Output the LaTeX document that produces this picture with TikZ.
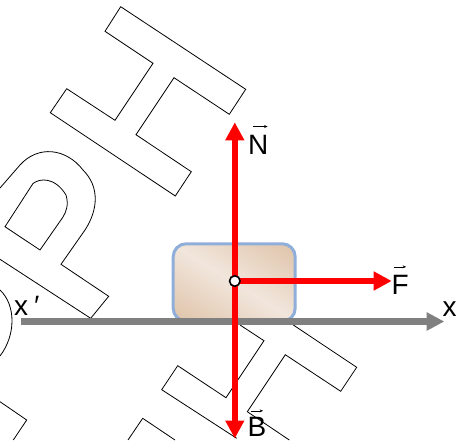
\documentclass[tikz,border=0pt]{standalone}
\usepackage{fontspec}
\setmainfont{Liberation Sans}
\usetikzlibrary{arrows.meta}
\definecolor{blockA}{HTML}{F1E6DC}
\definecolor{blockB}{HTML}{DDBFA3}
\definecolor{blockedge}{HTML}{8FAEDA}
\definecolor{axisgray}{HTML}{808080}
\pgfdeclarehorizontalshading{parchment}{100bp}{
  color(0bp)=(blockB); color(12bp)=(blockB); color(50bp)=(blockA);
  color(88bp)=(blockB); color(100bp)=(blockB)}
\tikzset{
  wm/.style={draw=black,line width=0.8pt,line join=miter},
  blockbox/.style={draw=blockedge,line width=3pt,rounded corners=13pt,inner sep=0pt,
     minimum width=122pt,minimum height=77.5pt,shading=parchment,shading angle=58},
  force/.style={draw=red,line width=6.5pt,-{Triangle[length=18pt,width=18pt]}},
  axisline/.style={draw=axisgray,line width=6.4pt,-{Triangle[length=17.7pt,width=17.4pt]}},
  lbl/.style={font=\fontsize{28}{28}\selectfont,inner sep=0pt,anchor=base west,text=black},
  vecmark/.style={draw=black,line width=0.6pt,-{Stealth[length=3.5pt,width=3pt]}},
  pivot/.style={circle,draw=black,fill=white,line width=1.6pt,minimum size=10.5pt,inner sep=0pt}
}
\begin{document}
\begin{tikzpicture}[x=1pt,y=-1pt]
\useasboundingbox (0,0) rectangle (457,440);
% watermark
\draw[wm] (120.7,6.7) -- (245.7,89.3) -- (229.3,114.3) -- (174,77.7) -- (136,134.7) -- (191.3,171.7) -- (175.3,196) -- (50.3,112.7) -- (66.7,88.7) -- (115,120.3) -- (153,63.3) -- (105,31.3) -- cycle;
\draw[wm] (0,259.3) -- (90.7,318.3) -- (108.7,296.3) -- (61,264.3) -- (85,230) .. controls (98,210) and (100,187) .. (83,170) .. controls (66,148) and (38,145) .. (20,165) -- (0,188);
\draw[wm] (5,226.7) -- (33,183.5) .. controls (40,178) and (55,177) .. (66,195) .. controls (69,205) and (66,212) .. (63,217) -- (40,250) -- cycle;
\draw[wm] (0,290) .. controls (16,305) and (16,335) .. (0,356);
\draw[wm] (0,401.7) -- (26.7,420) -- (13.3,440);
\draw[wm] (240,325) -- (264,340.7) -- (226,397.7) -- (177.7,365.7) -- (161.7,389.7) -- (236.7,438.3);
\draw[wm] (293.3,325) -- (356.7,367.3) -- (340.7,391.3) -- (285.3,354.7) -- (247.3,411.7) -- (289.3,440);
\draw[wm] (128,440) -- (142.7,418.3) -- (175,440);
% block
\node[blockbox] (block) at (234.2,282.5) {};
% axis
\coordinate (axisstart) at (21,321.5);
\coordinate (axisend) at (444.3,321.5);
\draw[axisline] (axisstart) -- (axisend);
% forces
\coordinate (center) at (234.8,281);
\coordinate (ntip) at (234.8,122.3);
\coordinate (btip) at (234.8,438.5);
\coordinate (ftip) at (391.7,281);
\draw[force] (center) -- (ntip);
\draw[force] (center) -- (btip);
\draw[force] (center) -- (ftip);
\node[pivot] (origin) at (center) {};
% labels
\node[lbl] (nlabel) at (248,154) {N};
\node[lbl] (flabel) at (391.3,294) {F};
\node[lbl] (blabel) at (247.3,436.7) {B};
\node[lbl] (xlabel) at (442.5,316) {x};
\node[lbl] (xplabel) at (14,315) {x\,\textit{′}};
% vector marks
\draw[vecmark] ([shift={(5,-8)}]nlabel.north west) -- ([shift={(-1,-8)}]nlabel.north east);
\draw[vecmark] ([shift={(2.7,-7.7)}]flabel.north west) -- ([shift={(-2.7,-7.7)}]flabel.north east);
\draw[vecmark] ([shift={(3.4,-6.4)}]blabel.north west) -- ([shift={(-3.3,-6.4)}]blabel.north east);
\end{tikzpicture}
\end{document}
